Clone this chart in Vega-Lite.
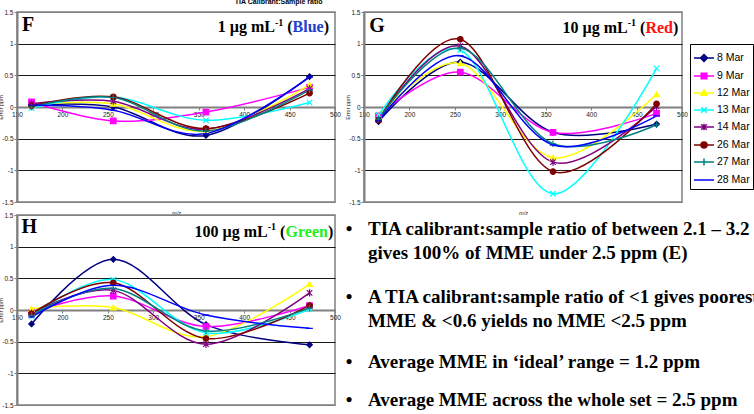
{
  "$schema": "https://vega.github.io/schema/vega-lite/v6.json",
  "background": "white",
  "padding": {"left": -3, "top": -3, "right": 0, "bottom": 0},
  "config": {
    "font": "Liberation Sans",
    "view": {"stroke": "#808080", "strokeWidth": 1.5},
    "axis": {"labelFont": "Liberation Sans", "labelFontSize": 6.5, "labelColor": "#222222", "labelPadding": 1, "tickSize": 3, "tickColor": "#808080", "domainColor": "#808080", "domainWidth": 2, "labelFlush": false, "labelOverlap": false, "titleFont": "Liberation Sans", "titleFontWeight": "normal", "titleColor": "#222222", "titleFontSize": 5.5}
  },
  "datasets": {
    "F": [
      {"series": "8 Mar", "mz": 166, "err": 0.03}, {"series": "8 Mar", "mz": 256, "err": 0.0}, {"series": "8 Mar", "mz": 358, "err": -0.45}, {"series": "8 Mar", "mz": 472, "err": 0.48},
      {"series": "9 Mar", "mz": 166, "err": 0.08}, {"series": "9 Mar", "mz": 256, "err": -0.22}, {"series": "9 Mar", "mz": 358, "err": -0.08}, {"series": "9 Mar", "mz": 472, "err": 0.31},
      {"series": "12 Mar", "mz": 166, "err": 0.03}, {"series": "12 Mar", "mz": 256, "err": 0.05}, {"series": "12 Mar", "mz": 358, "err": -0.38}, {"series": "12 Mar", "mz": 472, "err": 0.35},
      {"series": "13 Mar", "mz": 166, "err": -0.02}, {"series": "13 Mar", "mz": 256, "err": 0.16}, {"series": "13 Mar", "mz": 358, "err": -0.21}, {"series": "13 Mar", "mz": 472, "err": 0.07},
      {"series": "14 Mar", "mz": 166, "err": 0.05}, {"series": "14 Mar", "mz": 256, "err": 0.09}, {"series": "14 Mar", "mz": 358, "err": -0.35}, {"series": "14 Mar", "mz": 472, "err": 0.29},
      {"series": "26 Mar", "mz": 166, "err": 0.02}, {"series": "26 Mar", "mz": 256, "err": 0.16}, {"series": "26 Mar", "mz": 358, "err": -0.34}, {"series": "26 Mar", "mz": 472, "err": 0.22},
      {"series": "27 Mar", "mz": 166, "err": 0.0}, {"series": "27 Mar", "mz": 256, "err": 0.15}, {"series": "27 Mar", "mz": 358, "err": -0.38}, {"series": "27 Mar", "mz": 472, "err": 0.27},
      {"series": "28 Mar", "mz": 166, "err": 0.03}, {"series": "28 Mar", "mz": 256, "err": -0.05}, {"series": "28 Mar", "mz": 358, "err": -0.42}, {"series": "28 Mar", "mz": 472, "err": 0.47}
    ],
    "G": [
      {"series": "8 Mar", "mz": 166, "err": -0.23}, {"series": "8 Mar", "mz": 256, "err": 0.71}, {"series": "8 Mar", "mz": 358, "err": -0.4}, {"series": "8 Mar", "mz": 472, "err": -0.27},
      {"series": "9 Mar", "mz": 166, "err": -0.14}, {"series": "9 Mar", "mz": 256, "err": 0.55}, {"series": "9 Mar", "mz": 358, "err": -0.4}, {"series": "9 Mar", "mz": 472, "err": -0.1},
      {"series": "12 Mar", "mz": 166, "err": -0.15}, {"series": "12 Mar", "mz": 256, "err": 0.69}, {"series": "12 Mar", "mz": 358, "err": -0.8}, {"series": "12 Mar", "mz": 472, "err": 0.2},
      {"series": "13 Mar", "mz": 166, "err": -0.13}, {"series": "13 Mar", "mz": 256, "err": 0.9}, {"series": "13 Mar", "mz": 358, "err": -1.37}, {"series": "13 Mar", "mz": 472, "err": 0.61},
      {"series": "14 Mar", "mz": 166, "err": -0.2}, {"series": "14 Mar", "mz": 256, "err": 0.96}, {"series": "14 Mar", "mz": 358, "err": -0.87}, {"series": "14 Mar", "mz": 472, "err": 0.01},
      {"series": "26 Mar", "mz": 166, "err": -0.21}, {"series": "26 Mar", "mz": 256, "err": 1.07}, {"series": "26 Mar", "mz": 358, "err": -1.02}, {"series": "26 Mar", "mz": 472, "err": 0.05},
      {"series": "27 Mar", "mz": 166, "err": -0.19}, {"series": "27 Mar", "mz": 256, "err": 0.93}, {"series": "27 Mar", "mz": 358, "err": -0.58}, {"series": "27 Mar", "mz": 472, "err": -0.28},
      {"series": "28 Mar", "mz": 166, "err": -0.22}, {"series": "28 Mar", "mz": 256, "err": 0.81}, {"series": "28 Mar", "mz": 358, "err": -0.6}, {"series": "28 Mar", "mz": 472, "err": -0.14}
    ],
    "H": [
      {"series": "8 Mar", "mz": 166, "err": -0.22}, {"series": "8 Mar", "mz": 256, "err": 0.8}, {"series": "8 Mar", "mz": 358, "err": -0.23}, {"series": "8 Mar", "mz": 472, "err": -0.55},
      {"series": "9 Mar", "mz": 166, "err": -0.04}, {"series": "9 Mar", "mz": 256, "err": 0.22}, {"series": "9 Mar", "mz": 358, "err": -0.26}, {"series": "9 Mar", "mz": 472, "err": 0.07},
      {"series": "12 Mar", "mz": 166, "err": 0.02}, {"series": "12 Mar", "mz": 256, "err": 0.04}, {"series": "12 Mar", "mz": 358, "err": -0.42}, {"series": "12 Mar", "mz": 472, "err": 0.41},
      {"series": "13 Mar", "mz": 166, "err": -0.1}, {"series": "13 Mar", "mz": 256, "err": 0.48}, {"series": "13 Mar", "mz": 358, "err": -0.36}, {"series": "13 Mar", "mz": 472, "err": 0.01},
      {"series": "14 Mar", "mz": 166, "err": -0.05}, {"series": "14 Mar", "mz": 256, "err": 0.31}, {"series": "14 Mar", "mz": 358, "err": -0.54}, {"series": "14 Mar", "mz": 472, "err": 0.27},
      {"series": "26 Mar", "mz": 166, "err": -0.06}, {"series": "26 Mar", "mz": 256, "err": 0.43}, {"series": "26 Mar", "mz": 358, "err": -0.45}, {"series": "26 Mar", "mz": 472, "err": 0.07},
      {"series": "27 Mar", "mz": 166, "err": -0.08}, {"series": "27 Mar", "mz": 256, "err": 0.34}, {"series": "27 Mar", "mz": 358, "err": -0.33}, {"series": "27 Mar", "mz": 472, "err": 0.03},
      {"series": "28 Mar", "mz": 166, "err": -0.11}, {"series": "28 Mar", "mz": 256, "err": 0.39}, {"series": "28 Mar", "mz": 358, "err": -0.08}, {"series": "28 Mar", "mz": 472, "err": -0.29}
    ]
  },
  "columns": 2,
  "spacing": {"row": 13, "column": 29},
  "bounds": "flush",
  "resolve": {"scale": {"color": "independent", "stroke": "independent", "shape": "independent", "x": "independent", "y": "independent"}, "legend": {"color": "independent", "stroke": "independent", "shape": "independent"}},
  "concat": [
    {
      "width": 318, "height": 190,
      "encoding": {
        "x": {"field": "mz", "type": "quantitative", "scale": {"domain": [150, 500], "nice": false, "zero": false}, "axis": {"values": [150, 200, 250, 300, 350, 400, 450, 500], "offset": -95, "title": "m/z", "titleY": 103, "titleFontStyle": "italic", "grid": false}},
        "y": {"field": "err", "type": "quantitative", "scale": {"domain": [-1.5, 1.5], "nice": false, "zero": false}, "axis": {"values": [-1.5, -1, -0.5, 0, 0.5, 1, 1.5], "labelExpr": "datum.value + ''", "title": "Error ppm", "titleX": -17, "titleY": 95, "titleAngle": 270, "titleBaseline": "middle", "titleAlign": "center", "grid": true, "gridColor": {"condition": {"test": "datum.value == 0 || abs(datum.value) == 1.5", "value": "#808080"}, "value": "#1a1a1a"}, "gridWidth": 1.2}}
      },
      "layer": [
        {"data": {"name": "F"}, "mark": {"type": "line", "interpolate": "cardinal", "strokeWidth": 1.5},
         "encoding": {"color": {"field": "series", "type": "nominal", "scale": {"domain": ["8 Mar", "9 Mar", "12 Mar", "13 Mar", "14 Mar", "26 Mar", "27 Mar", "28 Mar"], "range": ["#000080", "#FF00FF", "#FFFF00", "#00FFFF", "#800080", "#800000", "#008080", "#0000FF"]}, "legend": null}}},
        {"data": {"name": "F"}, "mark": {"type": "point", "filled": true, "size": 30, "strokeWidth": 1.2, "opacity": 1},
         "encoding": {
           "color": {"field": "series", "type": "nominal", "scale": {"domain": ["8 Mar", "9 Mar", "12 Mar", "13 Mar", "14 Mar", "26 Mar", "27 Mar", "28 Mar"], "range": ["#000080", "#FF00FF", "#FFFF00", "#00FFFF", "#800080", "#800000", "#008080", "#0000FF"]}, "legend": null},
           "stroke": {"field": "series", "type": "nominal", "scale": {"domain": ["8 Mar", "9 Mar", "12 Mar", "13 Mar", "14 Mar", "26 Mar", "27 Mar", "28 Mar"], "range": ["#000080", "#FF00FF", "#FFFF00", "#00FFFF", "#800080", "#800000", "#008080", "#0000FF"]}, "legend": null},
           "shape": {"field": "series", "type": "nominal", "scale": {"domain": ["8 Mar", "9 Mar", "12 Mar", "13 Mar", "14 Mar", "26 Mar", "27 Mar", "28 Mar"], "range": ["diamond", "square", "triangle-up", "M-1,-1L1,1M-1,1L1,-1", "M-1,-1L1,1M-1,1L1,-1M0,-1.3L0,1.3", "circle", "M0,-1.2L0,1.2M-1.2,0L1.2,0", "M-1.2,0L1.2,0"]}, "legend": null}
         }},
        {"data": {"values": [{"mz": 438, "err": 1.626, "label": "TIA Calibrant:Sample ratio"}]}, "mark": {"type": "text", "align": "center", "baseline": "alphabetic", "font": "Liberation Sans", "fontSize": 7, "fontWeight": "bold", "color": "#000000"}, "encoding": {"text": {"field": "label"}}},
        {"data": {"values": [{"mz": 155.5, "err": 1.2, "label": "F"}]}, "mark": {"type": "text", "align": "left", "baseline": "alphabetic", "font": "Liberation Serif", "fontSize": 20, "fontWeight": "bold", "color": "#000000"}, "encoding": {"text": {"field": "label"}}},
        {"data": {"values": [{"mz": 493.4, "err": 1.18, "label": ")"}]}, "mark": {"type": "text", "align": "right", "baseline": "alphabetic", "font": "Liberation Serif", "fontSize": 16, "fontWeight": "bold", "color": "#000000"}, "encoding": {"text": {"field": "label"}}},
        {"data": {"values": [{"mz": 493.4, "err": 1.18, "label": "Blue"}]}, "mark": {"type": "text", "align": "right", "baseline": "alphabetic", "dx": -5.3, "font": "Liberation Serif", "fontSize": 16, "fontWeight": "bold", "color": "#2040D0"}, "encoding": {"text": {"field": "label"}}},
        {"data": {"values": [{"mz": 493.4, "err": 1.18, "label": "("}]}, "mark": {"type": "text", "align": "right", "baseline": "alphabetic", "dx": -36.4, "font": "Liberation Serif", "fontSize": 16, "fontWeight": "bold", "color": "#000000"}, "encoding": {"text": {"field": "label"}}},
        {"data": {"values": [{"mz": 493.4, "err": 1.18, "label": "-1"}]}, "mark": {"type": "text", "align": "right", "baseline": "alphabetic", "dx": -45.7, "dy": -6.5, "font": "Liberation Serif", "fontSize": 10, "fontWeight": "bold", "color": "#000000"}, "encoding": {"text": {"field": "label"}}},
        {"data": {"values": [{"mz": 493.4, "err": 1.18, "label": "1 µg mL"}]}, "mark": {"type": "text", "align": "right", "baseline": "alphabetic", "dx": -54, "font": "Liberation Serif", "fontSize": 16, "fontWeight": "bold", "color": "#000000"}, "encoding": {"text": {"field": "label"}}}
      ]
    },
    {
      "width": 318, "height": 190,
      "encoding": {
        "x": {"field": "mz", "type": "quantitative", "scale": {"domain": [150, 500], "nice": false, "zero": false}, "axis": {"values": [150, 200, 250, 300, 350, 400, 450, 500], "offset": -95, "title": "m/z", "titleY": 103, "titleFontStyle": "italic", "grid": false}},
        "y": {"field": "err", "type": "quantitative", "scale": {"domain": [-1.5, 1.5], "nice": false, "zero": false}, "axis": {"values": [-1.5, -1, -0.5, 0, 0.5, 1, 1.5], "labelExpr": "datum.value + ''", "title": "Error ppm", "titleX": -17, "titleY": 95, "titleAngle": 270, "titleBaseline": "middle", "titleAlign": "center", "grid": true, "gridColor": {"condition": {"test": "datum.value == 0 || abs(datum.value) == 1.5", "value": "#808080"}, "value": "#1a1a1a"}, "gridWidth": 1.2}}
      },
      "layer": [
        {"data": {"name": "G"}, "mark": {"type": "line", "interpolate": "cardinal", "strokeWidth": 1.5},
         "encoding": {"color": {"field": "series", "type": "nominal", "scale": {"domain": ["8 Mar", "9 Mar", "12 Mar", "13 Mar", "14 Mar", "26 Mar", "27 Mar", "28 Mar"], "range": ["#000080", "#FF00FF", "#FFFF00", "#00FFFF", "#800080", "#800000", "#008080", "#0000FF"]},
           "legend": {"orient": "none", "legendX": 326, "legendY": 32, "title": null, "strokeColor": "#000000", "fillColor": "#ffffff", "padding": 3, "labelFont": "Liberation Sans", "labelFontSize": 10.5, "labelColor": "#000000", "symbolSize": 100, "symbolStrokeWidth": 1.5, "rowPadding": -7.6, "symbolOffset": 0, "labelOffset": 2, "symbolType": "stroke",
             "encode": {"symbols": {"update": {
               "shape": {"signal": "['M-1,0L1,0M0,-0.35L0.35,0L0,0.35L-0.35,0Z','M-1,0L1,0M-0.28,-0.28L0.28,-0.28L0.28,0.28L-0.28,0.28Z','M-1,0L1,0M0,-0.32L0.3,0.22L-0.3,0.22Z','M-1,0L1,0M-0.28,-0.28L0.28,0.28M-0.28,0.28L0.28,-0.28','M-1,0L1,0M-0.28,-0.28L0.28,0.28M-0.28,0.28L0.28,-0.28M0,-0.32L0,0.32','M-1,0L1,0M-0.3,0A0.3,0.3,0,1,0,0.3,0A0.3,0.3,0,1,0,-0.3,0Z','M-1,0L1,0M0,-0.35L0,0.35','M-1,0L1,0'][indexof(['8 Mar','9 Mar','12 Mar','13 Mar','14 Mar','26 Mar','27 Mar','28 Mar'], datum.value)]"},
               "fill": {"signal": "['#000080','#FF00FF','#FFFF00','#00FFFF','#800080','#800000','#008080','#0000FF'][indexof(['8 Mar','9 Mar','12 Mar','13 Mar','14 Mar','26 Mar','27 Mar','28 Mar'], datum.value)]"},
               "size": {"value": 400},
               "strokeWidth": {"value": 1.5}
             }}}}}}},
        {"data": {"name": "G"}, "transform": [{"filter": "datum.series == '8 Mar'"}], "mark": {"type": "point", "shape": "diamond", "filled": true, "size": 30, "color": "#000080", "stroke": "#000080", "strokeWidth": 1.2, "opacity": 1}},
        {"data": {"name": "G"}, "transform": [{"filter": "datum.series == '9 Mar'"}], "mark": {"type": "point", "shape": "square", "filled": true, "size": 30, "color": "#FF00FF", "stroke": "#FF00FF", "strokeWidth": 1.2, "opacity": 1}},
        {"data": {"name": "G"}, "transform": [{"filter": "datum.series == '12 Mar'"}], "mark": {"type": "point", "shape": "triangle-up", "filled": true, "size": 30, "color": "#FFFF00", "stroke": "#FFFF00", "strokeWidth": 1.2, "opacity": 1}},
        {"data": {"name": "G"}, "transform": [{"filter": "datum.series == '13 Mar'"}], "mark": {"type": "point", "shape": "M-1,-1L1,1M-1,1L1,-1", "filled": true, "size": 30, "color": "#00FFFF", "stroke": "#00FFFF", "strokeWidth": 1.2, "opacity": 1}},
        {"data": {"name": "G"}, "transform": [{"filter": "datum.series == '14 Mar'"}], "mark": {"type": "point", "shape": "M-1,-1L1,1M-1,1L1,-1M0,-1.3L0,1.3", "filled": true, "size": 30, "color": "#800080", "stroke": "#800080", "strokeWidth": 1.2, "opacity": 1}},
        {"data": {"name": "G"}, "transform": [{"filter": "datum.series == '26 Mar'"}], "mark": {"type": "point", "shape": "circle", "filled": true, "size": 30, "color": "#800000", "stroke": "#800000", "strokeWidth": 1.2, "opacity": 1}},
        {"data": {"name": "G"}, "transform": [{"filter": "datum.series == '27 Mar'"}], "mark": {"type": "point", "shape": "M0,-1.2L0,1.2M-1.2,0L1.2,0", "filled": true, "size": 30, "color": "#008080", "stroke": "#008080", "strokeWidth": 1.2, "opacity": 1}},
        {"data": {"name": "G"}, "transform": [{"filter": "datum.series == '28 Mar'"}], "mark": {"type": "point", "shape": "M-1.2,0L1.2,0", "filled": true, "size": 30, "color": "#0000FF", "stroke": "#0000FF", "strokeWidth": 1.2, "opacity": 1}},
        {"data": {"values": [{"mz": 155.8, "err": 1.19, "label": "G"}]}, "mark": {"type": "text", "align": "left", "baseline": "alphabetic", "font": "Liberation Serif", "fontSize": 20, "fontWeight": "bold", "color": "#000000"}, "encoding": {"text": {"field": "label"}}},
        {"data": {"values": [{"mz": 495.9, "err": 1.17, "label": ")"}]}, "mark": {"type": "text", "align": "right", "baseline": "alphabetic", "font": "Liberation Serif", "fontSize": 16, "fontWeight": "bold", "color": "#000000"}, "encoding": {"text": {"field": "label"}}},
        {"data": {"values": [{"mz": 495.9, "err": 1.17, "label": "Red"}]}, "mark": {"type": "text", "align": "right", "baseline": "alphabetic", "dx": -5.3, "font": "Liberation Serif", "fontSize": 16, "fontWeight": "bold", "color": "#FF1010"}, "encoding": {"text": {"field": "label"}}},
        {"data": {"values": [{"mz": 495.9, "err": 1.17, "label": "("}]}, "mark": {"type": "text", "align": "right", "baseline": "alphabetic", "dx": -32.9, "font": "Liberation Serif", "fontSize": 16, "fontWeight": "bold", "color": "#000000"}, "encoding": {"text": {"field": "label"}}},
        {"data": {"values": [{"mz": 495.9, "err": 1.17, "label": "-1"}]}, "mark": {"type": "text", "align": "right", "baseline": "alphabetic", "dx": -42.2, "dy": -6.5, "font": "Liberation Serif", "fontSize": 10, "fontWeight": "bold", "color": "#000000"}, "encoding": {"text": {"field": "label"}}},
        {"data": {"values": [{"mz": 495.9, "err": 1.17, "label": "10 µg mL"}]}, "mark": {"type": "text", "align": "right", "baseline": "alphabetic", "dx": -50.5, "font": "Liberation Serif", "fontSize": 16, "fontWeight": "bold", "color": "#000000"}, "encoding": {"text": {"field": "label"}}}
      ]
    },
    {
      "width": 318, "height": 190,
      "encoding": {
        "x": {"field": "mz", "type": "quantitative", "scale": {"domain": [150, 500], "nice": false, "zero": false}, "axis": {"values": [150, 200, 250, 300, 350, 400, 450, 500], "offset": -95, "title": "m/z", "titleY": 103, "titleFontStyle": "italic", "grid": false}},
        "y": {"field": "err", "type": "quantitative", "scale": {"domain": [-1.5, 1.5], "nice": false, "zero": false}, "axis": {"values": [-1.5, -1, -0.5, 0, 0.5, 1, 1.5], "labelExpr": "datum.value + ''", "title": "Error ppm", "titleX": -17, "titleY": 95, "titleAngle": 270, "titleBaseline": "middle", "titleAlign": "center", "grid": true, "gridColor": {"condition": {"test": "datum.value == 0 || abs(datum.value) == 1.5", "value": "#808080"}, "value": "#1a1a1a"}, "gridWidth": 1.2}}
      },
      "layer": [
        {"data": {"name": "H"}, "mark": {"type": "line", "interpolate": "cardinal", "strokeWidth": 1.5},
         "encoding": {"color": {"field": "series", "type": "nominal", "scale": {"domain": ["8 Mar", "9 Mar", "12 Mar", "13 Mar", "14 Mar", "26 Mar", "27 Mar", "28 Mar"], "range": ["#000080", "#FF00FF", "#FFFF00", "#00FFFF", "#800080", "#800000", "#008080", "#0000FF"]}, "legend": null}}},
        {"data": {"name": "H"}, "mark": {"type": "point", "filled": true, "size": 30, "strokeWidth": 1.2, "opacity": 1},
         "encoding": {
           "color": {"field": "series", "type": "nominal", "scale": {"domain": ["8 Mar", "9 Mar", "12 Mar", "13 Mar", "14 Mar", "26 Mar", "27 Mar", "28 Mar"], "range": ["#000080", "#FF00FF", "#FFFF00", "#00FFFF", "#800080", "#800000", "#008080", "#0000FF"]}, "legend": null},
           "stroke": {"field": "series", "type": "nominal", "scale": {"domain": ["8 Mar", "9 Mar", "12 Mar", "13 Mar", "14 Mar", "26 Mar", "27 Mar", "28 Mar"], "range": ["#000080", "#FF00FF", "#FFFF00", "#00FFFF", "#800080", "#800000", "#008080", "#0000FF"]}, "legend": null},
           "shape": {"field": "series", "type": "nominal", "scale": {"domain": ["8 Mar", "9 Mar", "12 Mar", "13 Mar", "14 Mar", "26 Mar", "27 Mar", "28 Mar"], "range": ["diamond", "square", "triangle-up", "M-1,-1L1,1M-1,1L1,-1", "M-1,-1L1,1M-1,1L1,-1M0,-1.3L0,1.3", "circle", "M0,-1.2L0,1.2M-1.2,0L1.2,0", "M-1.2,0L1.2,0"]}, "legend": null}
         }},
        {"data": {"values": [{"mz": 155, "err": 1.21, "label": "H"}]}, "mark": {"type": "text", "align": "left", "baseline": "alphabetic", "font": "Liberation Serif", "fontSize": 20, "fontWeight": "bold", "color": "#000000"}, "encoding": {"text": {"field": "label"}}},
        {"data": {"values": [{"mz": 498.1, "err": 1.16, "label": ")"}]}, "mark": {"type": "text", "align": "right", "baseline": "alphabetic", "font": "Liberation Serif", "fontSize": 16, "fontWeight": "bold", "color": "#000000"}, "encoding": {"text": {"field": "label"}}},
        {"data": {"values": [{"mz": 498.1, "err": 1.16, "label": "Green"}]}, "mark": {"type": "text", "align": "right", "baseline": "alphabetic", "dx": -5.3, "font": "Liberation Serif", "fontSize": 16, "fontWeight": "bold", "color": "#22EE22"}, "encoding": {"text": {"field": "label"}}},
        {"data": {"values": [{"mz": 498.1, "err": 1.16, "label": "("}]}, "mark": {"type": "text", "align": "right", "baseline": "alphabetic", "dx": -48, "font": "Liberation Serif", "fontSize": 16, "fontWeight": "bold", "color": "#000000"}, "encoding": {"text": {"field": "label"}}},
        {"data": {"values": [{"mz": 498.1, "err": 1.16, "label": "-1"}]}, "mark": {"type": "text", "align": "right", "baseline": "alphabetic", "dx": -57.3, "dy": -6.5, "font": "Liberation Serif", "fontSize": 10, "fontWeight": "bold", "color": "#000000"}, "encoding": {"text": {"field": "label"}}},
        {"data": {"values": [{"mz": 498.1, "err": 1.16, "label": "100 µg mL"}]}, "mark": {"type": "text", "align": "right", "baseline": "alphabetic", "dx": -65.6, "font": "Liberation Serif", "fontSize": 16, "fontWeight": "bold", "color": "#000000"}, "encoding": {"text": {"field": "label"}}}
      ]
    },
    {
      "width": 318, "height": 190,
      "view": {"stroke": null},
      "encoding": {
        "x": {"field": "h", "type": "quantitative", "scale": {"domain": [0, 318], "nice": false, "zero": false}, "axis": null},
        "y": {"field": "v", "type": "quantitative", "scale": {"domain": [0, 190], "nice": false, "zero": false, "reverse": true}, "axis": null}
      },
      "layer": [
        {"data": {"values": [
          {"h": 4, "v": 19.5, "line": "TIA calibrant:sample ratio of between 2.1 – 3.2"},
          {"h": 4, "v": 43.5, "line": "gives 100% of MME under 2.5 ppm (E)"},
          {"h": 4, "v": 88, "line": "A TIA calibrant:sample ratio of <1 gives poorest"},
          {"h": 4, "v": 112, "line": "MME & <0.6 yields no MME <2.5 ppm"},
          {"h": 4, "v": 152.5, "line": "Average MME in ‘ideal’ range = 1.2 ppm"},
          {"h": 4, "v": 191, "line": "Average MME across the whole set = 2.5 ppm"}
        ]}, "mark": {"type": "text", "align": "left", "baseline": "alphabetic", "font": "Liberation Serif", "fontSize": 19, "fontWeight": "bold", "color": "#000000"}, "encoding": {"text": {"field": "line"}}},
        {"data": {"values": [{"h": -15, "v": 19.5}, {"h": -15, "v": 88}, {"h": -15, "v": 152.5}, {"h": -15, "v": 191}]},
         "mark": {"type": "text", "text": "•", "align": "center", "baseline": "alphabetic", "font": "Liberation Serif", "fontSize": 19, "fontWeight": "bold", "color": "#000000"}}
      ]
    }
  ]
}
